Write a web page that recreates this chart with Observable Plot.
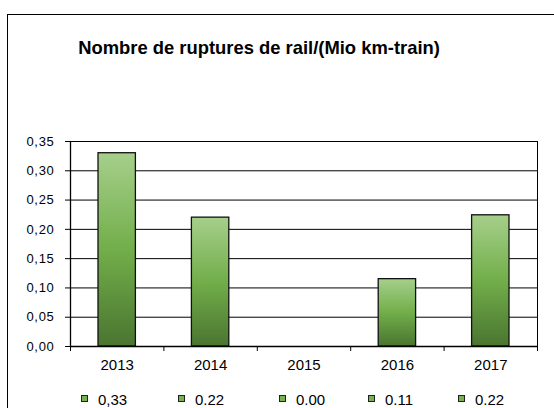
<!DOCTYPE html>
<html>
<head>
<meta charset="utf-8">
<script src="https://cdn.jsdelivr.net/npm/d3@7"></script>
<script src="https://cdn.jsdelivr.net/npm/@observablehq/plot@0.6"></script>
<style>
  html, body { margin: 0; padding: 0; background: #fff; overflow: hidden; }
  #wrap { position: relative; width: 554px; height: 408px; overflow: hidden; font-family: "Liberation Sans", Arial, sans-serif; }
  #frame { position: absolute; left: 7px; top: 14px; width: 700px; height: 600px; border: 1.5px solid #000; box-sizing: border-box; }
  #title { position: absolute; top: 39px; left: 259px; transform: translateX(-50%); white-space: nowrap; font-size: 18.4px; line-height: 18.4px; font-weight: bold; color: #000; }
  #chart { position: absolute; left: 0; top: 0; }
  .ylab text { font-size: 13px; letter-spacing: 0.7px; }
  .xlab text { font-size: 15px; }
  .leg { position: absolute; top: 392px; font-size: 15px; line-height: 15px; color: #000; white-space: nowrap; display: flex; align-items: center; }
  .sw { display: inline-block; width: 5px; height: 5px; border: 1.5px solid #222; background: #74b34f; margin-right: 10px; position: relative; top: -1px; }
</style>
</head>
<body>
<div id="wrap">
  <div id="frame"></div>
  <div id="chart"></div>
  <div id="title">Nombre de ruptures de rail/(Mio km-train)</div>
</div>
<script>
const years = ["2013", "2014", "2015", "2016", "2017"];
const values = [0.33, 0.22, 0.0, 0.115, 0.224];
const legendLabels = ["0,33", "0.22", "0.00", "0.11", "0.22"];
const yTicks = [0, 0.05, 0.10, 0.15, 0.20, 0.25, 0.30, 0.35];

const data = years.map((year, i) => ({year, i, value: values[i]}));

const chart = Plot.plot({
  width: 554,
  height: 408,
  marginLeft: 70,
  marginRight: 17,
  marginTop: 141,
  marginBottom: 62,
  style: {fontFamily: "'Liberation Sans', Arial, sans-serif", fontSize: "13px", color: "#000", background: "transparent", overflow: "visible"},
  x: {type: "linear", domain: [0, years.length], axis: null},
  y: {domain: [0, 0.35], axis: null},
  marks: [
    Plot.ruleY(yTicks, {stroke: "#000", strokeWidth: 1}),
    Plot.ruleX([years.length], {stroke: "#000", strokeWidth: 1}),
    Plot.rectY(data, {x1: "i", x2: d => d.i + 1, y: "value", insetLeft: 28, insetRight: 28, fill: "url(#barGrad)", stroke: "#111", strokeWidth: 1.3}),
    Plot.axisY({ticks: yTicks, tickSize: 5, tickPadding: 11, tickFormat: d => d3.format(".2f")(d).replace(".", ","), label: null, stroke: "#000", className: "ylab"}),
    Plot.ruleX([0], {stroke: "#000", strokeWidth: 1.3}),
    Plot.axisX({ticks: d3.range(0, years.length + 1), tickSize: 5, tickFormat: () => "", label: null, stroke: "#000"}),
    Plot.axisX({ticks: d3.range(years.length).map(i => i + 0.5), tickSize: 0, tickPadding: 13, tickFormat: d => years[Math.floor(d)], label: null, className: "xlab"}),
    Plot.ruleY([0], {stroke: "#000", strokeWidth: 1.5})
  ]
});

const ns = "http://www.w3.org/2000/svg";
const defs = document.createElementNS(ns, "defs");
const grad = document.createElementNS(ns, "linearGradient");
grad.setAttribute("id", "barGrad");
grad.setAttribute("x1", "0"); grad.setAttribute("y1", "0");
grad.setAttribute("x2", "0"); grad.setAttribute("y2", "1");
[["0%", "#a6cf8b"], ["50%", "#72ae4a"], ["100%", "#4a7530"]].forEach(([o, c]) => {
  const s = document.createElementNS(ns, "stop");
  s.setAttribute("offset", o);
  s.setAttribute("stop-color", c);
  grad.appendChild(s);
});
defs.appendChild(grad);
chart.insertBefore(defs, chart.firstChild);
document.getElementById("chart").appendChild(chart);

const legendX = [81, 178, 279, 368, 458];
const wrap = document.getElementById("wrap");
legendLabels.forEach((lab, i) => {
  const item = document.createElement("div");
  item.className = "leg";
  item.style.left = legendX[i] + "px";
  const sw = document.createElement("span");
  sw.className = "sw";
  item.appendChild(sw);
  item.appendChild(document.createTextNode(lab));
  wrap.appendChild(item);
});
</script>
</body>
</html>
